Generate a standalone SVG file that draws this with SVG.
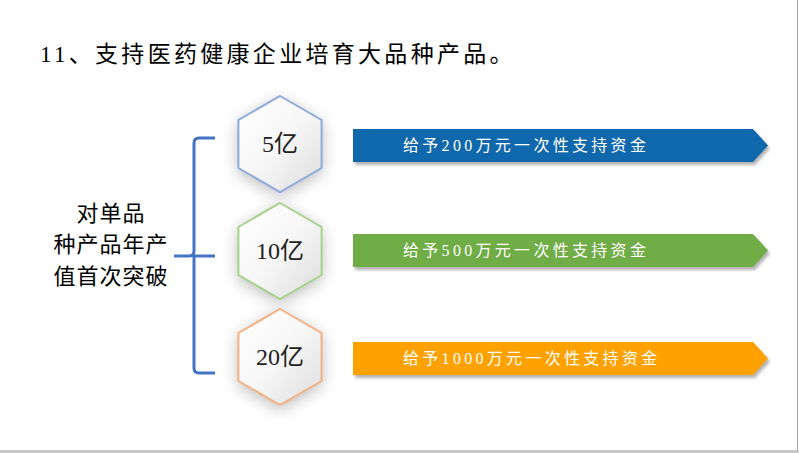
<svg xmlns="http://www.w3.org/2000/svg" width="799" height="453" viewBox="0 0 799 453">
<defs>
<style>
.title{font-family:"Liberation Serif","Noto Sans CJK SC",serif;font-size:23px;fill:#000;letter-spacing:3.3px}
.side{font-family:"Liberation Serif","Noto Sans CJK SC",serif;font-size:22px;fill:#000;text-anchor:middle;letter-spacing:1px}
.hex-t{font-family:"Liberation Serif","Noto Sans CJK SC",serif;font-size:24px;fill:#222;text-anchor:middle}
.arr-t{font-family:"Liberation Serif","Noto Sans CJK SC",serif;font-size:16px;fill:#fff;letter-spacing:3.3px}
.hex{fill:url(#hexfill);stroke-width:2}
.brace{fill:none;stroke:#4472c4;stroke-width:3;stroke-linecap:butt}
</style>
<linearGradient id="hexfill" x1="0" y1="0" x2="1" y2="1">
<stop offset="0" stop-color="#ffffff"/>
<stop offset="0.5" stop-color="#f7f7f7"/>
<stop offset="1" stop-color="#dcdcdc"/>
</linearGradient>
<filter id="glow" x="-50%" y="-50%" width="200%" height="200%">
<feGaussianBlur stdDeviation="8"/>
</filter>
<filter id="ashadow" x="-5%" y="-30%" width="110%" height="160%">
<feGaussianBlur stdDeviation="1.5"/>
</filter>
<polygon id="hexshape" points="0,-48 41.6,-24 41.6,24 0,48 -41.6,24 -41.6,-24"/>
<polygon id="arrshape" points="0,0 400,0 415,16.5 400,33 0,33"/>
</defs>
<rect x="0" y="0" width="799" height="453" fill="#ffffff"/>
<line x1="797.5" y1="0" x2="797.5" y2="450" stroke="#a0a0a0" stroke-width="1"/>
<rect x="0" y="450" width="799" height="3" fill="#c8c8c8"/>

<g id="title">
<text class="title" x="40" y="62">11、支持医药健康企业培育大品种产品。</text>
</g>

<g id="label">
<text class="side" x="111" y="221">对单品</text>
<text class="side" x="111" y="252">种产品年产</text>
<text class="side" x="111" y="284">值首次突破</text>
</g>

<g id="connectors">
<path class="brace" d="M215,138 L199,138 Q194,138 194,143 L194,251 Q194,256 189,256 L174,256 M194,256 L215,256 M194,256 L194,368 Q194,373 199,373 L215,373"/>
</g>

<g id="hex1" transform="translate(280,144)">
<use href="#hexshape" fill="#8a8a8a" opacity="0.6" filter="url(#glow)" transform="translate(0,4)"/>
<use href="#hexshape" class="hex" stroke="#8faadc"/>
<text class="hex-t" x="0" y="8">5亿</text>
</g>
<g id="hex2" transform="translate(280,251)">
<use href="#hexshape" fill="#8a8a8a" opacity="0.6" filter="url(#glow)" transform="translate(0,4)"/>
<use href="#hexshape" class="hex" stroke="#a9d18e"/>
<text class="hex-t" x="0" y="8">10亿</text>
</g>
<g id="hex3" transform="translate(280,357)">
<use href="#hexshape" fill="#8a8a8a" opacity="0.6" filter="url(#glow)" transform="translate(0,4)"/>
<use href="#hexshape" class="hex" stroke="#f4b183"/>
<text class="hex-t" x="0" y="8">20亿</text>
</g>

<g id="arrow1" transform="translate(353,129)">
<use href="#arrshape" fill="#808080" opacity="0.6" filter="url(#ashadow)" transform="translate(2,3)"/>
<use href="#arrshape" fill="#1068ac"/>
<text class="arr-t" x="50" y="22">给予200万元一次性支持资金</text>
</g>
<g id="arrow2" transform="translate(353,234)">
<use href="#arrshape" fill="#808080" opacity="0.6" filter="url(#ashadow)" transform="translate(2,3)"/>
<use href="#arrshape" fill="#70ad47"/>
<text class="arr-t" x="50" y="22">给予500万元一次性支持资金</text>
</g>
<g id="arrow3" transform="translate(353,342)">
<use href="#arrshape" fill="#808080" opacity="0.6" filter="url(#ashadow)" transform="translate(2,3)"/>
<use href="#arrshape" fill="#ffa200"/>
<text class="arr-t" x="50" y="22">给予1000万元一次性支持资金</text>
</g>
</svg>
